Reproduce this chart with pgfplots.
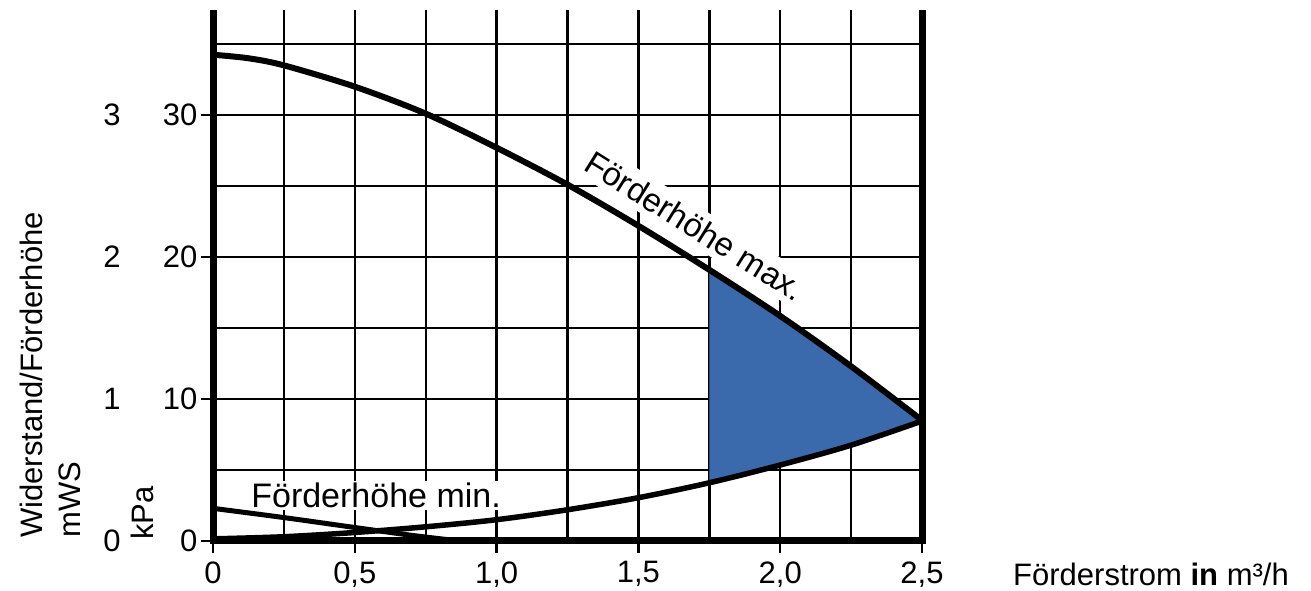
\documentclass[border=0pt]{standalone}
\usepackage{fontspec}
\setmainfont{Liberation Sans}
\usepackage{pgfplots}
\pgfplotsset{compat=1.18}
\usepgfplotslibrary{fillbetween}
\definecolor{fillblue}{RGB}{59,106,172}
\newcommand{\lblfont}{\fontsize{31}{38}\selectfont}
\newcommand{\crvfont}{\fontsize{33}{38}\selectfont}
\begin{document}
\begin{tikzpicture}
\begin{axis}[
  at={(0,0)}, anchor=south west,
  scale only axis, width=709pt, height=531pt,
  xmin=0, xmax=2.5, ymin=0, ymax=37.4,
  axis line style={draw=none},
  xtick={0,0.5,1,1.5,2,2.5},
  xticklabels={0,{0,5},{1,0},{1,5},{2,0},{2,5}},
  ytick={0,10,20,30}, yticklabels={0,10,20,30},
  minor xtick={0.25,0.75,1.25,1.75,2.25},
  minor ytick={5,15,25,35},
  grid=both,
  major grid style={black,line width=2.4pt},
  minor grid style={black,line width=2.4pt},
  tick align=outside, tick pos=left,
  major tick length=12pt, minor tick length=0pt,
  tick style={black,line width=2.4pt},
  ticklabel style={font=\lblfont},
  xticklabel style={yshift=-5pt},
  set layers,
  clip=false,
]
\begin{pgfonlayer}{axis tick labels}
\node[fill=white, inner sep=6pt, rotate=-32, font=\crvfont] at (axis cs:1.70,22.2) {Förderhöhe max.};
\node[fill=white, inner sep=2pt, font=\fontsize{34}{38}\selectfont] at (axis cs:0.575,3.2) {Förderhöhe min.};
\end{pgfonlayer}

\addplot[name path=maxc, black, line width=6pt, smooth] coordinates {
 (0,34.25) (0.125,34.0) (0.25,33.5) (0.5,32.0) (0.75,30.1) (1.0,27.7) (1.25,25.1)
 (1.5,22.2) (1.75,19.1) (2.0,15.85) (2.25,12.3) (2.5,8.5)};
\addplot[name path=sys, black, line width=5.5pt, smooth] coordinates {
 (0,0.15) (0.25,0.3) (0.5,0.6) (0.75,1.0) (1.0,1.5) (1.25,2.2)
 (1.5,3.05) (1.75,4.1) (2.0,5.35) (2.25,6.75) (2.5,8.45)};
\addplot[black, line width=5pt, smooth] coordinates {
 (0,2.3) (0.25,1.65) (0.5,0.95) (0.7,0.4) (0.87,0)};
\addplot[fillblue] fill between[of=maxc and sys, soft clip={domain=1.75:2.5}];

\draw[line width=7pt, line join=miter] (axis cs:0,37.4) -- (axis cs:0,0) -- (axis cs:2.5,0) -- (axis cs:2.5,37.4);

\node[font=\lblfont] at (axis cs:0,0) [xshift=-101pt] {0};
\node[font=\lblfont] at (axis cs:0,10) [xshift=-101pt] {1};
\node[font=\lblfont] at (axis cs:0,20) [xshift=-101pt] {2};
\node[font=\lblfont] at (axis cs:0,30) [xshift=-101pt] {3};
\end{axis}
\node[rotate=90, anchor=north west, align=left, inner sep=0pt, font=\lblfont] at (-193pt,3pt) {Widerstand/Förderhöhe\\mWS};
\node[rotate=90, anchor=north west, inner sep=0pt, font=\lblfont] at (-82pt,1pt) {kPa};
\node[anchor=base west, inner sep=0pt, font=\lblfont] at (800pt,-45pt) {Förderstrom \textbf{in} m³/h};
\pgfresetboundingbox
\path[use as bounding box] (-213pt,-50pt) rectangle (1098pt,541pt);
\end{tikzpicture}
\end{document}
